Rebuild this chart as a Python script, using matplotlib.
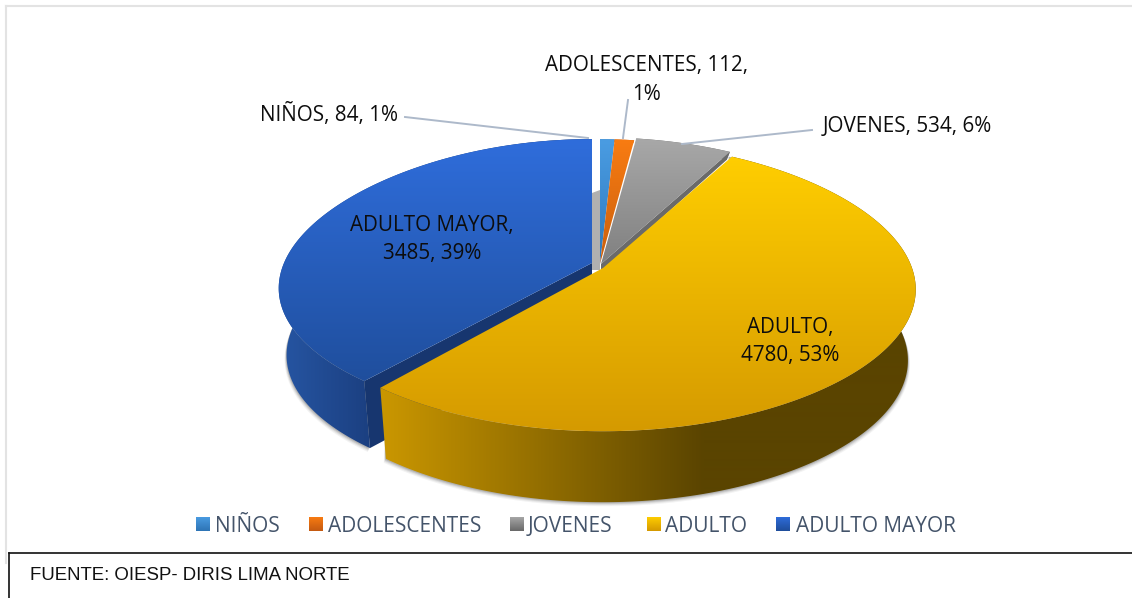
import numpy as np
import matplotlib
matplotlib.use("Agg")
import matplotlib.pyplot as plt
from matplotlib.colors import LinearSegmentedColormap
from matplotlib.patches import Polygon

categories = ["NIÑOS", "ADOLESCENTES", "JOVENES", "ADULTO", "ADULTO MAYOR"]
values = [84, 112, 534, 4780, 3485]

top_colors = [("#4A9CE2", "#2E78BC"), ("#F97C12", "#C95F0E"), ("#A8A8A8", "#808080"),
              ("#FFCE00", "#D59A00"), ("#2F6DDB", "#1F4E9C")]
side_colors = [("#2E75B6", "#2E75B6"), ("#C55A11", "#C55A11"), ("#6E6E6E", "#6A6A6A"),
               ("#C99600", "#5A4400"), ("#25539F", "#1B3F80")]
# apex x, apex y, half width, half height, depth, x perspective of each slice
layout = [(600, 264, 300, 141, 3, 0.16), (600, 264, 300, 141, 3, 0.16), (601, 264, 309, 143, 8, 0.16),
          (603, 268, 309, 142, 71, 0.16), (592, 263, 308, 140, 67, 0.19)]
grad_span = [(140, 265), (138, 265), (138, 265), (155, 432), (140, 385)]
side_span = [(600, 615), (615, 636), (636, 730), (385, 705), (290, 372)]

fig = plt.figure(figsize=(11.32, 5.98), dpi=100)
ax = fig.add_axes([0, 0, 1, 1])
ax.set_axis_off()
ax.set_xlim(0, 1132)
ax.set_ylim(598, 0)
ax.set_autoscale_on(False)

total = sum(values)
edges = np.concatenate([[0], np.cumsum(values)]) / total * 2 * np.pi


def project(theta, cfg, bottom=False):
    ax0, ay0, b, a, d, kx = cfg
    X, Y = np.sin(theta), np.cos(theta)
    wx = 1 + (kx + 0.04 * Y) * Y
    wy = 1 + 0.13 * Y
    x = b * X / wx
    y = -a * Y / wy
    if bottom:
        return ax0 + x * 0.975, ay0 + y + d
    return ax0 + x, ay0 + y


def grad_fill(pts, c0, c1, span, vertical, z):
    """Fill a polygon with a gradient running over span, held constant beyond it."""
    cmap = LinearSegmentedColormap.from_list("g", [c0, c1])
    n = 598 if vertical else 1132
    g = np.clip((np.linspace(0, n, n) - span[0]) / (span[1] - span[0]), 0, 1)
    g = g[:, None] if vertical else g[None, :]
    im = ax.imshow(g, cmap=cmap, extent=[0, 1132, 598, 0], aspect="auto",
                   vmin=0, vmax=1, zorder=z, interpolation="bilinear")
    clip = Polygon(pts, closed=True, transform=ax.transData, fc="none", ec="none")
    ax.add_patch(clip)
    im.set_clip_path(clip)


def flat(pts, color, z, alpha=1.0):
    ax.add_patch(Polygon(pts, closed=True, fc=color, ec="none", alpha=alpha, zorder=z))


# faint wall visible through the gap behind the small slices
g_ax, g_ay = layout[0][0], layout[0][1]
b_ax = layout[4][0]
flat([(b_ax, g_ay - 71), (g_ax, g_ay - 74), (g_ax, g_ay + 6), (b_ax, g_ay + 6)], "#B0B0B0", 1)

draw_order = [4, 0, 1, 2, 3]
for n, i in enumerate(draw_order):
    cfg = layout[i]
    z = 2 + n * 5
    th = np.linspace(edges[i], edges[i + 1], 240)
    tx, ty = project(th, cfg)
    bx, by = project(th, cfg, bottom=True)
    side = np.column_stack([np.r_[tx, bx[::-1]], np.r_[ty, by[::-1]]])
    if cfg[4] > 20:
        rim = np.column_stack([bx, by])
        sgn = np.sign(bx - cfg[0])
        for off, al in ((4, 0.07), (3, 0.10), (2, 0.16), (1, 0.22)):
            low = rim + np.column_stack([sgn * off * 0.5, np.full(len(rim), off)])
            high = rim - [0, cfg[4]]
            flat(np.vstack([low, high[::-1]]), "#555555", z, alpha=al)
    grad_fill(side, side_colors[i][0], side_colors[i][1], side_span[i], False, z + 1)
    # cut faces that look towards the viewer
    if i == 4:
        flat([(cfg[0], cfg[1]), (tx[0], ty[0]), (bx[0], by[0]),
              (cfg[0], cfg[1] + cfg[4])], "#17366F", z + 2)
    if i == 2:
        flat([(cfg[0], cfg[1]), (tx[-1], ty[-1]), (bx[-1], by[-1]),
              (cfg[0], cfg[1] + cfg[4])], "#6A6A6A", z + 2)
    top = np.column_stack([np.r_[cfg[0], tx], np.r_[cfg[1], ty]])
    grad_fill(top, top_colors[i][0], top_colors[i][1], grad_span[i], True, z + 3)

pct = [round(v / total * 100) for v in values]
label_font = ["Open Sans", "DejaVu Sans"]
lab = dict(fontsize=14.9, family=label_font, color="#0D0D0D", zorder=60, ha="center", va="center")
ax.text(329, 115, f"{categories[0]}, {values[0]}, {pct[0]}%", **lab)
ax.text(647, 65, f"{categories[1]}, {values[1]},", **lab)
ax.text(647, 94, f"{pct[1]}%", **lab)
ax.text(907, 126, f"{categories[2]}, {values[2]}, {pct[2]}%", **lab)
ax.text(790, 328, f"{categories[3]},", **lab)
ax.text(790, 356, f"{values[3]}, {pct[3]}%", **lab)
ax.text(432, 226, f"{categories[4]},", **lab)
ax.text(432, 254, f"{values[4]}, {pct[4]}%", **lab)

# leader lines
leader = "#ADB9CA"
ax.plot([405, 588], [117, 138], color=leader, lw=1.4, zorder=55)
ax.plot([628, 623], [100, 138], color=leader, lw=1.4, zorder=55)
ax.plot([812, 682], [130, 144], color=leader, lw=1.4, zorder=55)

# legend
sq_x = [196, 309, 510, 647, 776]
tx_x = [215, 328, 528, 665, 796]
for i, c in enumerate(categories):
    x = sq_x[i]
    sq = [(x, 517), (x + 14, 517), (x + 14, 531), (x, 531)]
    grad_fill(sq, top_colors[i][0], side_colors[i][1] if i < 3 else top_colors[i][1],
              (517, 531), True, 60)
    ax.text(tx_x[i], 527, c, fontsize=15, family=label_font, color="#44546A",
            ha="left", va="center", zorder=60)

# frames
ax.plot([6, 1132], [6, 6], color="#E3E3E3", lw=1.5, zorder=0)
ax.plot([6, 6], [6, 563], color="#E3E3E3", lw=1.5, zorder=0)
ax.plot([9, 1132], [553, 553], color="#111111", lw=1.2, zorder=70)
ax.plot([9, 9], [553, 598], color="#111111", lw=1.2, zorder=70)
ax.text(30, 576, "FUENTE: OIESP- DIRIS LIMA NORTE", fontsize=13.4, family="Liberation Sans",
        color="#111111", ha="left", va="center", zorder=70)

fig.savefig("out.png", dpi=100)
